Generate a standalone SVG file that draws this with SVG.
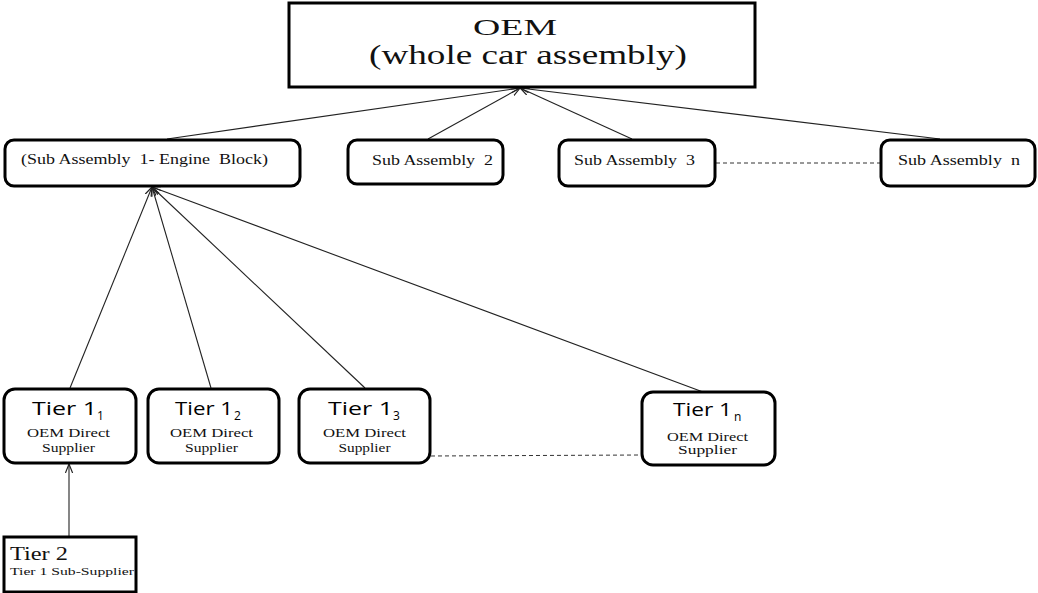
<svg xmlns="http://www.w3.org/2000/svg" width="1038" height="593" viewBox="0 0 1038 593">
<defs>
<marker id="arr" viewBox="0 0 10 10" refX="10" refY="5" markerWidth="9" markerHeight="9" orient="auto" markerUnits="userSpaceOnUse">
<path d="M0,1 L10,5 L0,9" fill="none" stroke="#222" stroke-width="1.3"/>
</marker>
<style>
.box{fill:#fff;stroke:#000;stroke-width:3}
.ln{stroke:#222;stroke-width:1.1;fill:none}
.dash{stroke:#333;stroke-width:1;stroke-dasharray:4 3;fill:none}
.serif{font-family:"Liberation Serif","Times New Roman",serif;fill:#111}
.sans{font-family:"Open Sans","DejaVu Sans",sans-serif;fill:#000}
</style>
</defs>
<rect width="1038" height="593" fill="#fff"/>
<g id="connectors">
<line class="ln" x1="167" y1="139" x2="520" y2="88" marker-end="url(#arr)"/>
<line class="ln" x1="428" y1="139" x2="520" y2="88" marker-end="url(#arr)"/>
<line class="ln" x1="632" y1="139" x2="520" y2="88" marker-end="url(#arr)"/>
<line class="ln" x1="940" y1="139" x2="520" y2="88" marker-end="url(#arr)"/>
<line class="ln" x1="70" y1="388" x2="152" y2="187" marker-end="url(#arr)"/>
<line class="ln" x1="211" y1="388" x2="152" y2="187" marker-end="url(#arr)"/>
<line class="ln" x1="365" y1="388" x2="152" y2="187" marker-end="url(#arr)"/>
<line class="ln" x1="703" y1="392" x2="152" y2="187" marker-end="url(#arr)"/>
<line class="ln" x1="69" y1="536" x2="69" y2="464" stroke="#555" marker-end="url(#arr)"/>
<line class="dash" x1="716" y1="163" x2="880" y2="163"/>
<line class="dash" x1="431" y1="456" x2="641" y2="455"/>
</g>
<g id="oem">
<rect class="box" x="289" y="3" width="466" height="84"/>
<text class="serif" x="473" y="35" font-size="24" textLength="84" lengthAdjust="spacingAndGlyphs">OEM</text>
<text class="serif" x="369" y="64" font-size="27" textLength="318" lengthAdjust="spacingAndGlyphs">(whole car assembly)</text>
</g>
<g id="sa1">
<rect class="box" x="5" y="140" width="295" height="46" rx="9"/>
<text class="serif" x="21" y="164" font-size="15" textLength="247" lengthAdjust="spacingAndGlyphs" xml:space="preserve">(Sub Assembly  1- Engine  Block)</text>
</g>
<g id="sa2">
<rect class="box" x="348" y="140" width="155" height="44" rx="9"/>
<text class="serif" x="372" y="165" font-size="15" textLength="121" lengthAdjust="spacingAndGlyphs" xml:space="preserve">Sub Assembly  2</text>
</g>
<g id="sa3">
<rect class="box" x="559" y="140" width="156" height="46" rx="9"/>
<text class="serif" x="574" y="165" font-size="15" textLength="121" lengthAdjust="spacingAndGlyphs" xml:space="preserve">Sub Assembly  3</text>
</g>
<g id="san">
<rect class="box" x="881" y="140" width="154" height="46" rx="9"/>
<text class="serif" x="898" y="165" font-size="15" textLength="122" lengthAdjust="spacingAndGlyphs" xml:space="preserve">Sub Assembly  n</text>
</g>
<g id="t11">
<rect class="box" x="4" y="389" width="132" height="74" rx="11"/>
<text class="sans" x="32" y="415" font-size="19" textLength="65" lengthAdjust="spacingAndGlyphs">Tier 1</text>
<text class="sans" x="97" y="420" font-size="12">1</text>
<text class="serif" x="68.5" y="437" font-size="13" text-anchor="middle" textLength="83" lengthAdjust="spacingAndGlyphs">OEM Direct</text>
<text class="serif" x="68.5" y="452" font-size="13" text-anchor="middle" textLength="53" lengthAdjust="spacingAndGlyphs">Supplier</text>
</g>
<g id="t12">
<rect class="box" x="148" y="389" width="131" height="74" rx="11"/>
<text class="sans" x="175" y="415" font-size="19" textLength="58" lengthAdjust="spacingAndGlyphs">Tier 1</text>
<text class="sans" x="234" y="420" font-size="12">2</text>
<text class="serif" x="211.5" y="437" font-size="13" text-anchor="middle" textLength="83" lengthAdjust="spacingAndGlyphs">OEM Direct</text>
<text class="serif" x="211.5" y="452" font-size="13" text-anchor="middle" textLength="53" lengthAdjust="spacingAndGlyphs">Supplier</text>
</g>
<g id="t13">
<rect class="box" x="299" y="389" width="131" height="74" rx="11"/>
<text class="sans" x="328" y="415" font-size="19" textLength="65" lengthAdjust="spacingAndGlyphs">Tier 1</text>
<text class="sans" x="393" y="420" font-size="12">3</text>
<text class="serif" x="364.5" y="437" font-size="13" text-anchor="middle" textLength="83" lengthAdjust="spacingAndGlyphs">OEM Direct</text>
<text class="serif" x="364.5" y="452" font-size="13" text-anchor="middle" textLength="52" lengthAdjust="spacingAndGlyphs">Supplier</text>
</g>
<g id="t1n">
<rect class="box" x="642" y="392" width="133" height="73" rx="11"/>
<text class="sans" x="673" y="416" font-size="19" textLength="59" lengthAdjust="spacingAndGlyphs">Tier 1</text>
<text class="sans" x="734" y="421" font-size="12">n</text>
<text class="serif" x="707.5" y="441" font-size="13" text-anchor="middle" textLength="81" lengthAdjust="spacingAndGlyphs">OEM Direct</text>
<text class="serif" x="707.5" y="454" font-size="13" text-anchor="middle" textLength="59" lengthAdjust="spacingAndGlyphs">Supplier</text>
</g>
<g id="t2">
<rect class="box" x="4" y="537" width="132" height="55"/>
<text class="serif" x="10" y="560" font-size="19" textLength="58" lengthAdjust="spacingAndGlyphs">Tier 2</text>
<text class="serif" x="10" y="575" font-size="11" textLength="124" lengthAdjust="spacingAndGlyphs">Tier 1 Sub-Supplier</text>
</g>
</svg>
